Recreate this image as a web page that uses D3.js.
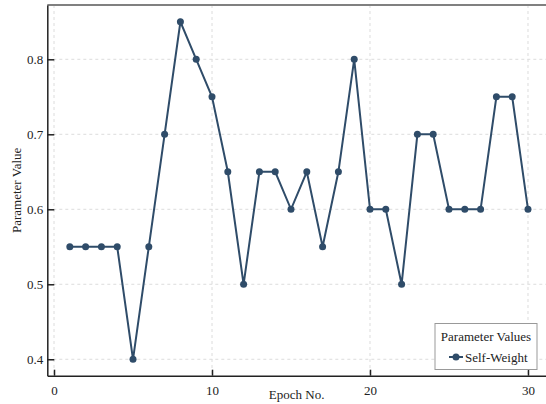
<!DOCTYPE html>
<html><head><meta charset="utf-8">
<script src="https://cdn.jsdelivr.net/npm/d3@7"></script>
<style>body{margin:0;background:#fff}svg{display:block}</style>
</head><body><svg id="c" width="546" height="404"></svg>
<script>
const epochs = [1,2,3,4,5,6,7,8,9,10,11,12,13,14,15,16,17,18,19,20,21,22,23,24,25,26,27,28,29,30];
const selfWeight = [0.55,0.55,0.55,0.55,0.40,0.55,0.70,0.85,0.80,0.75,0.65,0.50,0.65,0.65,0.60,0.65,0.55,0.65,0.80,0.60,0.60,0.50,0.70,0.70,0.60,0.60,0.60,0.75,0.75,0.60];
const xTicks = [0,10,20,30];
const yTicks = [0.4,0.5,0.6,0.7,0.8];
const seriesName = "Self-Weight";
const legendTitle = "Parameter Values";

const FONT = '"Liberation Serif", "Times New Roman", serif';
const svg = d3.select("#c");
const L=47.3, R=546, T=5, B=375.7;
const x = d3.scaleLinear().domain([-0.425, 31.14]).range([L, R]);
const y = d3.scaleLinear().domain([0.3781, 0.8724]).range([B, T]);
const color = "#2f4c69";

// grid
svg.append("g").selectAll("line").data(xTicks).join("line")
  .attr("x1", d=>x(d)).attr("x2", d=>x(d)).attr("y1", T).attr("y2", B)
  .attr("stroke", "#dcdcdc").attr("stroke-dasharray", "3,3").attr("stroke-width", 1);
svg.append("g").selectAll("line").data(yTicks).join("line")
  .attr("x1", L).attr("x2", R).attr("y1", d=>y(d)).attr("y2", d=>y(d))
  .attr("stroke", "#dcdcdc").attr("stroke-dasharray", "3,3").attr("stroke-width", 1);

// top border
svg.append("line").attr("x1", L).attr("x2", R).attr("y1", T).attr("y2", T)
  .attr("stroke", "#808080").attr("stroke-width", 2);

// axes
const xAxis = d3.axisBottom(x).tickValues(xTicks).tickFormat(d3.format("d")).tickSizeInner(-6).tickSizeOuter(0).tickPadding(10);
const gx = svg.append("g").attr("transform", `translate(0,${B})`).call(xAxis);
const yAxis = d3.axisLeft(y).tickValues(yTicks).tickFormat(d3.format(".1f")).tickSizeInner(-7).tickSizeOuter(0).tickPadding(10);
const gy = svg.append("g").attr("transform", `translate(${L},0)`).call(yAxis);
[gx, gy].forEach(g => {
  g.attr("font-family", null).attr("font-size", null);
  g.select(".domain").attr("stroke", "#222").attr("stroke-width", 1.5);
  g.selectAll(".tick line").attr("stroke", "#222").attr("stroke-width", 1.5);
  g.selectAll(".tick text").style("font-size", "13px").style("font-family", FONT).attr("fill", "#222");
});
gy.selectAll(".tick text").attr("x", -4);

// labels
svg.append("text").attr("x", (L+R)/2).attr("y", 399).attr("text-anchor", "middle")
  .style("font-size", "13px").style("font-family", FONT).attr("fill", "#222").text("Epoch No.");
svg.append("text").attr("transform", `translate(21,${(T+B)/2}) rotate(-90)`).attr("text-anchor", "middle")
  .style("font-size", "13px").style("font-family", FONT).attr("fill", "#222").text("Parameter Value");

// series
const data = epochs.map((e,i)=>({e, v:selfWeight[i]}));
svg.append("path").datum(data)
  .attr("d", d3.line().x(d=>x(d.e)).y(d=>y(d.v)))
  .attr("fill", "none").attr("stroke", color).attr("stroke-width", 2);
svg.append("g").selectAll("circle").data(data).join("circle")
  .attr("cx", d=>x(d.e)).attr("cy", d=>y(d.v)).attr("r", 3.5).attr("fill", color);

// legend
const lg = svg.append("g");
lg.append("rect").attr("x", 435).attr("y", 323.5).attr("width", 102).attr("height", 46)
  .attr("fill", "#fff").attr("stroke", "#999").attr("stroke-width", 1);
lg.append("text").attr("x", 486).attr("y", 341).attr("text-anchor", "middle")
  .style("font-size", "13px").style("font-family", FONT).attr("fill", "#222").text(legendTitle);
lg.append("line").attr("x1", 449).attr("x2", 463).attr("y1", 357).attr("y2", 357).attr("stroke", color).attr("stroke-width", 2);
lg.append("circle").attr("cx", 456).attr("cy", 357).attr("r", 3.5).attr("fill", color);
lg.append("text").attr("x", 465).attr("y", 361.5)
  .style("font-size", "13px").style("font-family", FONT).attr("fill", "#222").text(seriesName);
</script></body></html>
